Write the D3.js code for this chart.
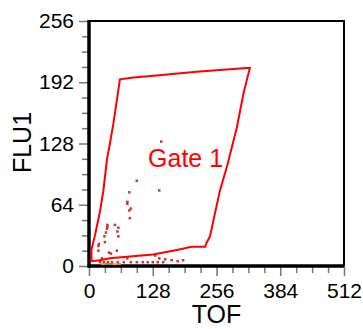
<!DOCTYPE html>
<html>
<head>
<meta charset="utf-8">
<script src="https://cdn.jsdelivr.net/npm/d3@7"></script>
<style>
  body { margin: 0; background: #fff; }
  text { font-family: Arial, "Liberation Sans", sans-serif; }
</style>
</head>
<body>
<div id="chart"></div>
<script>
// axis ranges and ticks
const xDomain = [0, 512];
const yDomain = [0, 256];
const xMajor = [0, 128, 256, 384, 512];
const yMajor = [0, 64, 128, 192, 256];
const xMinorStep = 32;
const yMinorStep = 16;

// gate polygon (TOF, FLU1)
const gateTOF  = [5, 5, 12, 22, 29, 36, 42, 49, 59, 62, 89, 136, 216, 317, 323, 310, 297, 277, 263, 250, 243, 236, 233, 206, 179, 129, 82, 42, 22, 5];
const gateFLU1 = [5, 17, 32, 57, 79, 111, 128, 149, 184, 195, 197, 199, 203, 207, 207, 180, 145, 104, 79, 48, 31, 24, 20, 20, 17, 12, 10, 8, 6, 5];

// events
const evTOF  = [96, 141, 81, 77, 77, 84, 81, 82, 37, 37, 36, 52, 59, 57, 34, 59, 31, 32, 20, 19, 19, 56, 40, 44, 26, 77, 141, 153, 133, 166, 178, 189, 145,
                22, 30, 38, 46, 58, 70, 84, 96, 108, 118, 128, 138, 149];
const evFLU1 = [89, 79, 77, 67, 65, 60, 58, 50, 43, 41, 39, 43, 40, 36, 35, 31, 31, 25, 23, 21, 16, 16, 14, 13, 8, 8, 8, 7, 11, 6, 5, 6, 130,
                4, 4, 4, 4, 4, 4, 4, 4, 4, 4, 4, 4, 4];
// few events sitting on the axis
const lowTOF  = [28, 36, 44, 52, 60];
const lowFLU1 = [2, 2, 2, 2, 2];
const lowColor = ['#e6a020', '#40b040', '#e07020', '#d0c020', '#e08030'];

const margin = { top: 21, right: 19, bottom: 63, left: 89 };
const width = 363 - margin.left - margin.right;
const height = 329 - margin.top - margin.bottom;

const svg = d3.select('#chart')
  .append('svg')
  .attr('width', 363)
  .attr('height', 329)
  .append('g')
  .attr('transform', `translate(${margin.left},${margin.top})`);

const x = d3.scaleLinear().domain(xDomain).range([0, width]);
const y = d3.scaleLinear().domain(yDomain).range([height, 0]);

// frame top / right
svg.append('path')
  .attr('d', `M0,0H${width}V${height}`)
  .attr('fill', 'none')
  .attr('stroke', '#000')
  .attr('stroke-width', 2);

// minor ticks
const xMinor = d3.range(xDomain[0], xDomain[1] + 1, xMinorStep).filter(v => !xMajor.includes(v));
const yMinor = d3.range(yDomain[0], yDomain[1] + 1, yMinorStep).filter(v => !yMajor.includes(v));

svg.append('g')
  .attr('transform', `translate(0,${height})`)
  .call(d3.axisBottom(x).tickValues(xMinor).tickSize(7).tickFormat(''))
  .call(g => g.select('.domain').remove())
  .call(g => g.selectAll('line').attr('stroke', '#777').attr('stroke-width', 1.5));

svg.append('g')
  .call(d3.axisLeft(y).tickValues(yMinor).tickSize(7).tickFormat(''))
  .call(g => g.select('.domain').remove())
  .call(g => g.selectAll('line').attr('stroke', '#777').attr('stroke-width', 1.5));

// major ticks + labels
svg.append('g')
  .attr('transform', `translate(0,${height})`)
  .call(d3.axisBottom(x).tickValues(xMajor).tickSize(10).tickPadding(7))
  .call(g => g.select('.domain').remove())
  .call(g => g.selectAll('line').attr('stroke', '#777').attr('stroke-width', 1.5))
  .call(g => g.selectAll('text').attr('font-size', 21).attr('fill', '#000')
    .attr('font-family', 'Arial, "Liberation Sans", sans-serif'));

svg.append('g')
  .call(d3.axisLeft(y).tickValues(yMajor).tickSize(10).tickPadding(5))
  .call(g => g.select('.domain').remove())
  .call(g => g.selectAll('line').attr('stroke', '#777').attr('stroke-width', 1.5))
  .call(g => g.selectAll('text').attr('font-size', 21).attr('fill', '#000')
    .attr('font-family', 'Arial, "Liberation Sans", sans-serif'));

// thick axis lines
svg.append('line')
  .attr('x1', 0).attr('x2', 0).attr('y1', -1).attr('y2', height + 1.5)
  .attr('stroke', '#000').attr('stroke-width', 3.5);
svg.append('line')
  .attr('x1', -1.5).attr('x2', width).attr('y1', height).attr('y2', height)
  .attr('stroke', '#000').attr('stroke-width', 3.5);

// events
const events = evTOF.map((v, i) => ({ t: v, f: evFLU1[i] }));
svg.selectAll('rect.ev')
  .data(events)
  .enter()
  .append('rect')
  .attr('class', 'ev')
  .attr('x', d => x(d.t) - 1.25)
  .attr('y', d => y(d.f) - 1.25)
  .attr('width', 2.5)
  .attr('height', 2.5)
  .attr('fill', '#cc3333');

const low = lowTOF.map((v, i) => ({ t: v, f: lowFLU1[i], c: lowColor[i] }));
svg.selectAll('rect.low')
  .data(low)
  .enter()
  .append('rect')
  .attr('class', 'low')
  .attr('x', d => x(d.t) - 2)
  .attr('y', d => y(d.f) - 1)
  .attr('width', 4)
  .attr('height', 2)
  .attr('fill', d => d.c);

// gate
const gate = gateTOF.map((v, i) => [x(v), y(gateFLU1[i])]);
svg.append('path')
  .attr('d', d3.line()(gate) + 'Z')
  .attr('fill', 'none')
  .attr('stroke', '#ff0000')
  .attr('stroke-width', 2)
  .attr('stroke-linejoin', 'miter');

svg.append('text')
  .attr('x', x(194))
  .attr('y', y(103))
  .attr('text-anchor', 'middle')
  .attr('font-size', 25)
  .attr('fill', '#ff0000')
  .text('Gate 1');

// axis titles
svg.append('text')
  .attr('x', width / 2)
  .attr('y', height + 57)
  .attr('text-anchor', 'middle')
  .attr('font-size', 25)
  .text('TOF');

svg.append('text')
  .attr('transform', `translate(-58,${height / 2 - 1}) rotate(-90)`)
  .attr('text-anchor', 'middle')
  .attr('font-size', 25)
  .text('FLU1');
</script>
</body>
</html>
